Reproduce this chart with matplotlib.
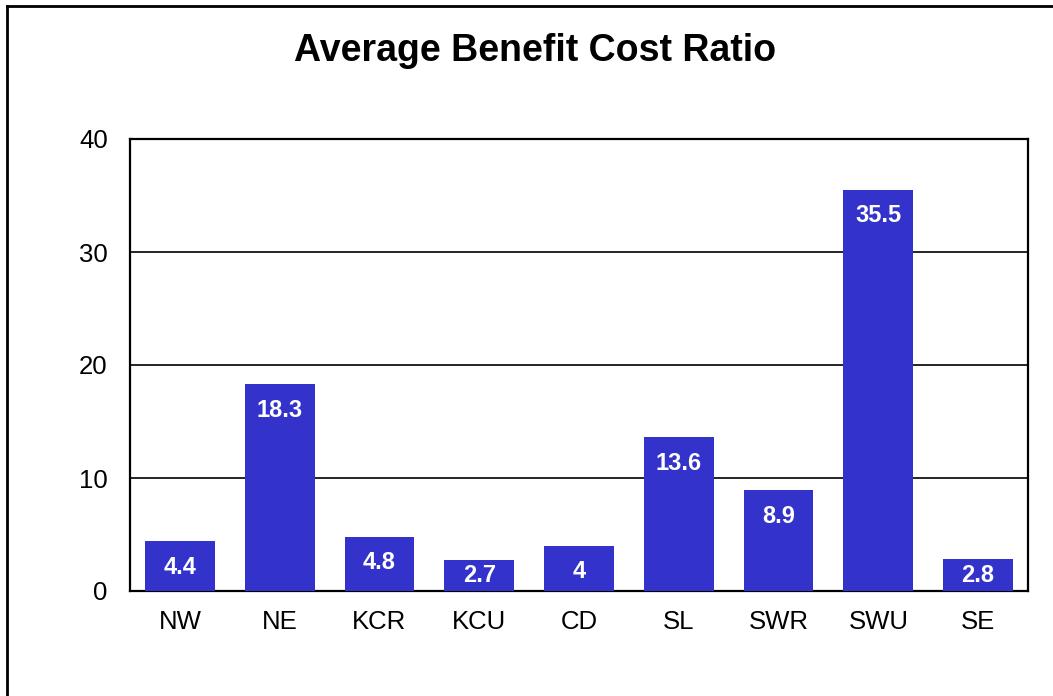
import numpy as np
import matplotlib
matplotlib.use("Agg")
import matplotlib.pyplot as plt
from matplotlib.lines import Line2D

plt.rcParams["font.family"] = ["Liberation Sans", "DejaVu Sans"]

regions = ["NW", "NE", "KCR", "KCU", "CD", "SL", "SWR", "SWU", "SE"]
ratios = [4.4, 18.3, 4.8, 2.7, 4, 13.6, 8.9, 35.5, 2.8]
labels = ["4.4", "18.3", "4.8", "2.7", "4", "13.6", "8.9", "35.5", "2.8"]
yticks = [0, 10, 20, 30, 40]

fig = plt.figure(figsize=(10.53, 6.96), dpi=100)
ax = fig.add_axes([130 / 1053, 1 - 591 / 696, 898 / 1053, 452 / 696])

x = np.arange(len(regions))
ax.bar(x, ratios, width=0.7, color="#3333CC", zorder=3)

ax.set_xlim(-0.5, len(regions) - 0.5)
ax.set_ylim(0, 40)
ax.set_yticks(yticks)
ax.set_xticks(x)
ax.set_xticklabels(regions)
ax.tick_params(axis="both", length=0, labelsize=18.5)
ax.tick_params(axis="y", pad=16)
ax.tick_params(axis="x", pad=14)
ax.yaxis.grid(True, color="black", linewidth=1.2, zorder=1)
for s in ax.spines.values():
    s.set_linewidth(1.6)
    s.set_color("black")

# bar labels, inside end (pushed up a bit for short bars)
for xi, v, lab in zip(x, ratios, labels):
    yl = max(v - 26 / 11.3, 1.4)
    ax.text(xi, yl, lab, ha="center", va="center", color="white",
            fontsize=17, fontweight="bold", zorder=4)

fig.text(535 / 1053, 1 - 51 / 696, "Average Benefit Cost Ratio",
         ha="center", va="center", fontsize=27, fontweight="bold")

# outer frame (top and left only visible)
fig.add_artist(Line2D([7 / 1053, 1.0], [1 - 6 / 696, 1 - 6 / 696],
                      transform=fig.transFigure, color="black", lw=2))
fig.add_artist(Line2D([7 / 1053, 7 / 1053], [0.0, 1 - 6 / 696],
                      transform=fig.transFigure, color="black", lw=2))

fig.savefig("out.png", dpi=100)
